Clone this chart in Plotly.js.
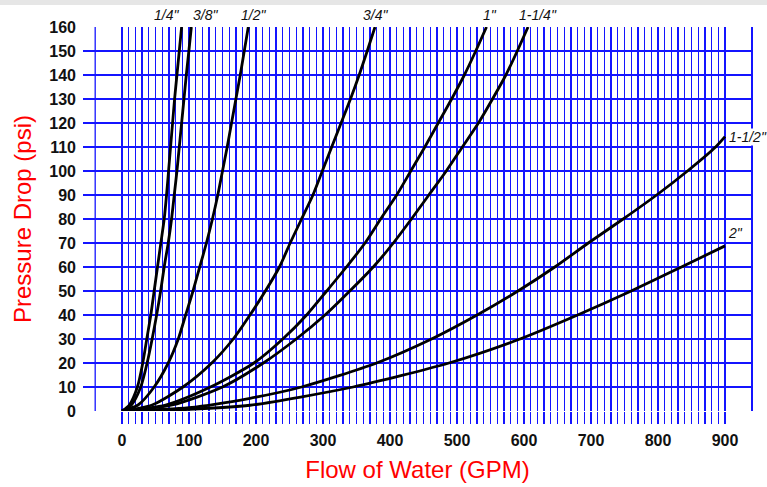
<!DOCTYPE html>
<html>
<head>
<meta charset="utf-8">
<script src="https://cdn.plot.ly/plotly-3.0.1.min.js"></script>
<style>
  html, body { margin: 0; padding: 0; background: #ffffff; }
  #topbar { position: absolute; left: 0; top: 0; width: 767px; height: 5px; background: #e6e6e6; z-index: 10; }
  #chart { width: 767px; height: 487px; }
</style>
</head>
<body>
<div id="topbar"></div>
<div id="chart"></div>
<script>
// ---- Data (GPM vs psi) ----
const sizeNames = ['1/4"', '3/8"', '1/2"', '3/4"', '1"', '1-1/4"', '1-1/2"', '2"'];

const gpm_14 = [0, 11, 23, 31, 37, 43, 48, 53, 58, 63, 66.5, 69.5, 72.5, 75.5, 78.5, 82, 85.5, 89];
const psi_14 = [0, 2.5, 10, 20, 30, 40, 50, 60, 70, 80, 90, 100, 110, 120, 130, 140, 150, 160];

const gpm_38 = [0, 14, 28, 37.5, 45, 51.7, 57.7, 63, 69, 74, 78, 82, 85.5, 89, 92.5, 96, 99.8, 103.5];
const psi_38 = [0, 2.5, 10, 20, 30, 40, 50, 60, 70, 80, 90, 100, 110, 120, 130, 140, 150, 160];

const gpm_12 = [0, 24, 48, 69, 84, 95, 106, 116, 126, 135, 143, 150, 157, 163.5, 170, 176.5, 182.5, 188.5];
const psi_12 = [0, 2.5, 10, 20, 30, 40, 50, 60, 70, 80, 90, 100, 110, 120, 130, 140, 150, 160];

const gpm_34 = [0, 45, 91, 134, 166, 191, 214, 235, 251, 268, 285, 299, 313, 327, 341, 354, 366, 377.6];
const psi_34 = [0, 2.5, 10, 20, 30, 40, 50, 60, 70, 80, 90, 100, 110, 120, 130, 140, 150, 160];

const gpm_1 = [0, 65, 132, 197, 240, 275.6, 305.5, 335, 362.7, 386, 410, 431, 452, 472, 492, 511, 528, 544];
const psi_1 = [0, 2.5, 10, 20, 30, 40, 50, 60, 70, 80, 90, 100, 110, 120, 130, 140, 150, 160];

const gpm_114 = [0, 75, 150, 211, 260, 303, 340, 375, 405, 432, 458, 484, 508, 532, 553, 573, 590, 606];
const psi_114 = [0, 2.5, 10, 20, 30, 40, 50, 60, 70, 80, 90, 100, 110, 120, 130, 140, 150, 160];

const gpm_112 = [0, 100, 191, 268, 380, 462, 530, 591, 646, 696, 748, 798, 844, 886, 900];
const psi_112 = [0, 1.4, 5.3, 10, 20, 30, 40, 50, 60, 70, 80, 90, 100, 110, 114.3];

const gpm_2 = [0, 100, 191, 345, 488, 594, 680, 760, 835, 900];
const psi_2 = [0, 0.7, 2.4, 10, 20, 30, 40, 50, 60, 68.8];

const xTickLabels = ['0', '100', '200', '300', '400', '500', '600', '700', '800', '900'];
const yTickLabels = ['0', '10', '20', '30', '40', '50', '60', '70', '80', '90', '100', '110', '120', '130', '140', '150', '160'];

// ---- Build traces ----
const seriesX = [gpm_14, gpm_38, gpm_12, gpm_34, gpm_1, gpm_114, gpm_112, gpm_2];
const seriesY = [psi_14, psi_38, psi_12, psi_34, psi_1, psi_114, psi_112, psi_2];

const traces = seriesX.map((xs, i) => ({
  type: 'scatter',
  mode: 'lines',
  x: xs,
  y: seriesY[i],
  name: sizeNames[i],
  line: { color: '#000000', width: 2.8, shape: 'spline', smoothing: 0.7 },
  hoverinfo: 'x+y+name'
}));

// x ticks every 10 GPM (grid), labelled every 100
const xTickVals = [];
const xTickText = [];
for (let v = 0; v <= 900; v += 10) {
  xTickVals.push(v);
  xTickText.push(v % 100 === 0 ? xTickLabels[v / 100] : '');
}
const yTickVals = yTickLabels.map(Number);

const blue = '#1414ff';
const labelFont = { family: 'Liberation Sans, Arial, sans-serif', size: 14, color: '#111111', style: 'italic' };

function topLabel(text, x) {
  return { text: text, x: x, y: 160, xref: 'x', yref: 'y', yanchor: 'bottom', xanchor: 'center',
           yshift: 2, showarrow: false, font: labelFont };
}

const annotations = [
  topLabel(sizeNames[0], 66),
  topLabel(sizeNames[1], 124),
  topLabel(sizeNames[2], 197),
  topLabel(sizeNames[3], 379),
  topLabel(sizeNames[4], 549),
  topLabel(sizeNames[5], 621),
  { text: sizeNames[6], x: 904, y: 114.3, xref: 'x', yref: 'y', xanchor: 'left', yanchor: 'middle',
    showarrow: false, font: labelFont, bgcolor: '#ffffff', borderpad: 0 },
  { text: sizeNames[7], x: 916, y: 74, xref: 'x', yref: 'y', xanchor: 'center', yanchor: 'middle',
    showarrow: false, font: labelFont, bgcolor: '#ffffff', borderpad: 0 }
];

const shapes = [
  { type: 'line', xref: 'x', yref: 'y', x0: -40, x1: -40, y0: 0, y1: 160, line: { color: blue, width: 1.3 }, layer: 'below' },
  { type: 'line', xref: 'paper', yref: 'y', x0: 1, x1: 1, y0: 0, y1: 160, line: { color: blue, width: 2 }, layer: 'below' }
];

const layout = {
  width: 767,
  height: 487,
  margin: { l: 83, r: 15, t: 27, b: 76, pad: 0 },
  paper_bgcolor: '#ffffff',
  plot_bgcolor: '#ffffff',
  showlegend: false,
  xaxis: {
    range: [-58.2, 940.3],
    tickmode: 'array',
    tickvals: xTickVals,
    ticktext: xTickText,
    showgrid: true,
    gridcolor: blue,
    gridwidth: 1.3,
    zeroline: false,
    showline: false,
    ticks: 'outside',
    ticklen: 12,
    tickwidth: 1.3,
    tickcolor: blue,
    ticklabelstandoff: 3,
    tickfont: { family: 'Liberation Sans, Arial, sans-serif', size: 16, weight: 'bold', color: '#111111' },
    title: { text: 'Flow of Water (GPM)', font: { family: 'Liberation Sans, Arial, sans-serif', size: 24, color: '#ff0000' }, standoff: 12 },
    fixedrange: true
  },
  yaxis: {
    range: [0, 160],
    tickmode: 'array',
    tickvals: yTickVals,
    ticktext: yTickLabels,
    showgrid: true,
    gridcolor: blue,
    gridwidth: 2,
    zeroline: false,
    showline: false,
    ticks: '',
    ticklabelstandoff: 6,
    tickfont: { family: 'Liberation Sans, Arial, sans-serif', size: 16, weight: 'bold', color: '#111111' },
    title: { text: 'Pressure Drop (psi)', font: { family: 'Liberation Sans, Arial, sans-serif', size: 24, color: '#ff0000' }, standoff: 10 },
    fixedrange: true
  },
  annotations: annotations,
  shapes: shapes
};

Plotly.newPlot('chart', traces, layout, { displayModeBar: false, staticPlot: true });
</script>
</body>
</html>
